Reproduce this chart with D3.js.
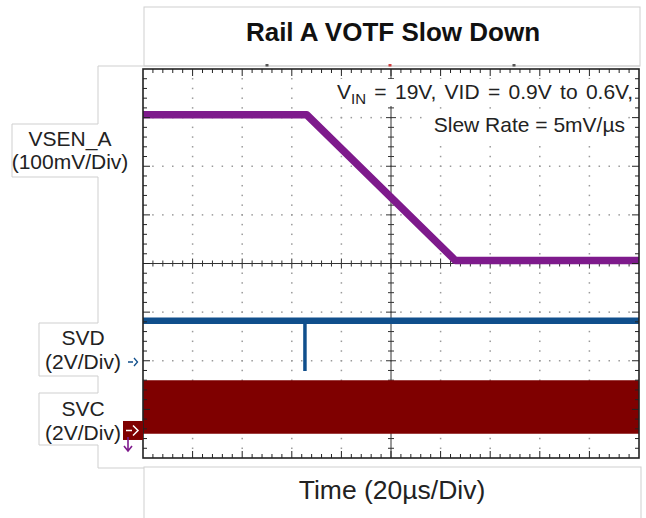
<!DOCTYPE html>
<html>
<head>
<meta charset="utf-8">
<script src="https://cdn.jsdelivr.net/npm/d3@7"></script>
<style>
  html, body { margin: 0; padding: 0; background: #fff; }
  svg { display: block; }
  text { font-family: "Liberation Sans", Arial, sans-serif; }
</style>
</head>
<body>
<svg id="chart" width="646" height="518"></svg>
<script>
// ---- Data (scope capture) ----
const timeDomain = [0, 200];            // µs, 10 divisions x 20 µs
const vsenTime = [0, 66, 126, 200];     // µs
const vsenVolt = [0.9, 0.9, 0.6, 0.6];  // V
const svdTime = [0, 200];
const svdVolt = [1.7, 1.7];
const svdGlitchTime = [65.3, 65.3];
const svdGlitchVolt = [1.7, -0.37];
const svcTime = [0, 200];
const svcHigh = [2.04, 2.04];
const svcLow = [-0.1, -0.1];

const titleText = "Rail A VOTF Slow Down";
const xLabel = "Time (20µs/Div)";
const channelLabels = [
  { name: "VSEN_A", scale: "(100mV/Div)" },
  { name: "SVD", scale: "(2V/Div)" },
  { name: "SVC", scale: "(2V/Div)" }
];

// ---- Layout ----
const svg = d3.select("#chart");
const L = 143, R = 639, T = 69, B = 458;
const nx = 10, ny = 8, minor = 5;
const dx = (R - L) / nx, dy = (B - T) / ny;
const cx = (L + R) / 2, cy = (T + B) / 2;

const x = d3.scaleLinear().domain(timeDomain).range([L, R]);

// channel scale: volts per division and ground position (divisions from centre, up positive)
function channelScale(vPerDiv, groundDiv) {
  return d3.scaleLinear()
    .domain([(-ny / 2 - groundDiv) * vPerDiv, (ny / 2 - groundDiv) * vPerDiv])
    .range([B, T]);
}
const yVsen = channelScale(0.1, -5.94);
const ySvd = channelScale(2, -2.026);
const ySvc = channelScale(2, -3.434);

const colPurple = "#7e1a8c", colBlue = "#104f8c", colRed = "#7f0000";
const grayLine = "#cfcfcf";

// ---- Surrounding panels ----
svg.append("rect").attr("x", 144).attr("y", 7).attr("width", 496).attr("height", 59)
  .attr("fill", "#fff").attr("stroke", grayLine);
svg.append("path")
  .attr("d", "M640,66 H98 V124 H12 V177 H98 V323 H39 V376 H98 V393 H39 V445 H98 V468 H144")
  .attr("fill", "none").attr("stroke", grayLine);
svg.append("rect").attr("x", 144).attr("y", 467).attr("width", 497).attr("height", 70)
  .attr("fill", "#fff").attr("stroke", grayLine);

svg.append("text").attr("x", 393).attr("y", 41).attr("text-anchor", "middle")
  .attr("font-size", 26).attr("font-weight", "bold").attr("fill", "#111").text(titleText);
svg.append("text").attr("x", 392).attr("y", 499).attr("text-anchor", "middle")
  .attr("font-size", 26.5).attr("fill", "#222").text(xLabel);

// small reference markers above the graticule
[[267, "#555"], [390, "#d04040"], [514, "#555"]].forEach(([mx, c]) => {
  svg.append("rect").attr("x", mx - 1.5).attr("y", 64).attr("width", 3).attr("height", 2.5).attr("fill", c);
});

// ---- Graticule ----
const g = svg.append("g");
g.append("rect").attr("x", L).attr("y", T).attr("width", R - L).attr("height", B - T).attr("fill", "#fff");

const dots = [];
for (let i = 1; i < nx; i++) {
  if (i === nx / 2) continue;
  for (let k = 1; k < ny * minor; k++) dots.push([L + i * dx, T + k * dy / minor]);
}
for (let j = 1; j < ny; j++) {
  if (j === ny / 2) continue;
  for (let k = 1; k < nx * minor; k++) dots.push([L + k * dx / minor, T + j * dy]);
}
g.selectAll("rect.dot").data(dots).join("rect").attr("class", "dot")
  .attr("x", d => d[0] - 0.75).attr("y", d => d[1] - 0.75)
  .attr("width", 1.5).attr("height", 1.5).attr("fill", "#9a9a9a");

// centre crosshair with ticks
const cross = g.append("g").attr("stroke", "#333").attr("stroke-width", 1);
cross.append("line").attr("x1", L).attr("x2", R).attr("y1", cy).attr("y2", cy);
cross.append("line").attr("x1", cx).attr("x2", cx).attr("y1", T).attr("y2", B);
for (let k = 1; k < nx * minor; k++) {
  const px = L + k * dx / minor, len = k % minor === 0 ? 5 : 3;
  cross.append("line").attr("x1", px).attr("x2", px).attr("y1", cy - len).attr("y2", cy + len);
}
for (let k = 1; k < ny * minor; k++) {
  const py = T + k * dy / minor, len = k % minor === 0 ? 5 : 3;
  cross.append("line").attr("x1", cx - len).attr("x2", cx + len).attr("y1", py).attr("y2", py);
}

// ---- Traces ----
const clip = svg.append("clipPath").attr("id", "plotClip");
clip.append("rect").attr("x", L).attr("y", T).attr("width", R - L).attr("height", B - T);
const traces = svg.append("g").attr("clip-path", "url(#plotClip)");

// SVC clock band
const svcData = svcTime.map((t, i) => ({ t, hi: svcHigh[i], lo: svcLow[i] }));
traces.append("path").datum(svcData)
  .attr("d", d3.area().x(d => x(d.t)).y0(d => ySvc(d.lo)).y1(d => ySvc(d.hi)))
  .attr("fill", colRed).attr("stroke", colRed).attr("stroke-width", 1.5);

// SVD data line and glitch
const svdLine = d3.line().x(d => x(d[0])).y(d => ySvd(d[1]));
traces.append("path").datum(svdTime.map((t, i) => [t, svdVolt[i]]))
  .attr("d", svdLine).attr("fill", "none").attr("stroke", colBlue).attr("stroke-width", 6.5);
traces.append("path").datum(svdGlitchTime.map((t, i) => [t, svdGlitchVolt[i]]))
  .attr("d", svdLine).attr("fill", "none").attr("stroke", colBlue).attr("stroke-width", 3.5);

// VSEN_A output voltage
traces.append("path").datum(vsenTime.map((t, i) => [t, vsenVolt[i]]))
  .attr("d", d3.line().x(d => x(d[0])).y(d => yVsen(d[1])))
  .attr("fill", "none").attr("stroke", colPurple).attr("stroke-width", 7.5)
  .attr("stroke-linejoin", "round");

// ---- Frame with edge ticks ----
const frame = svg.append("g").attr("stroke", "#222");
frame.append("rect").attr("x", L).attr("y", T).attr("width", R - L).attr("height", B - T)
  .attr("fill", "none").attr("stroke-width", 1.6);
for (let k = 1; k < nx * minor; k++) {
  const px = L + k * dx / minor, len = k % minor === 0 ? 7 : 4;
  frame.append("line").attr("x1", px).attr("x2", px).attr("y1", T).attr("y2", T + len);
  frame.append("line").attr("x1", px).attr("x2", px).attr("y1", B).attr("y2", B - len);
}
for (let k = 1; k < ny * minor; k++) {
  const py = T + k * dy / minor, len = k % minor === 0 ? 7 : 4;
  frame.append("line").attr("x1", L).attr("x2", L + len).attr("y1", py).attr("y2", py);
  frame.append("line").attr("x1", R).attr("x2", R - len).attr("y1", py).attr("y2", py);
}

// ---- Test conditions ----
const ann = svg.append("g");
ann.append("rect").attr("x", 330).attr("y", 79).attr("width", 305).attr("height", 27).attr("fill", "#fff");
ann.append("rect").attr("x", 428).attr("y", 112).attr("width", 200).attr("height", 28).attr("fill", "#fff");
const line1 = ann.append("text").attr("x", 633).attr("y", 99).attr("text-anchor", "end")
  .attr("font-size", 21).attr("word-spacing", 2.5).attr("fill", "#222");
line1.append("tspan").text("V");
line1.append("tspan").attr("font-size", 15).attr("dy", 5).text("IN");
line1.append("tspan").attr("dy", -5).text(" = 19V, VID = 0.9V to 0.6V,");
ann.append("text").attr("x", 625).attr("y", 132).attr("text-anchor", "end")
  .attr("font-size", 21).attr("fill", "#222").text("Slew Rate = 5mV/µs");

// ---- Channel labels ----
const labelPos = [
  { x: 70, y1: 146, y2: 169 },
  { x: 83, y1: 345, y2: 369 },
  { x: 83, y1: 416, y2: 440 }
];
channelLabels.forEach((c, i) => {
  const p = labelPos[i];
  svg.append("text").attr("x", p.x).attr("y", p.y1).attr("text-anchor", "middle")
    .attr("font-size", 21).attr("fill", "#222").text(c.name);
  svg.append("text").attr("x", p.x).attr("y", p.y2).attr("text-anchor", "middle")
    .attr("font-size", 21).attr("fill", "#222").text(c.scale);
});

// ---- Ground markers ----
const svdG = ySvd(0);
svg.append("path").attr("d", `M128,${svdG} H133 M134,${svdG - 4} L137.5,${svdG} L134,${svdG + 4}`)
  .attr("fill", "none").attr("stroke", colBlue).attr("stroke-width", 1.3);

const svcG = ySvc(0);
svg.append("rect").attr("x", 123).attr("y", svcG - 9.5).attr("width", 20).attr("height", 19).attr("fill", colRed);
svg.append("path").attr("d", `M126,${svcG} H132 M133,${svcG - 5} L138,${svcG} L133,${svcG + 5}`)
  .attr("fill", "none").attr("stroke", "#fff").attr("stroke-width", 1.5);

// VSEN ground is below the screen
svg.append("path").attr("d", "M128,437 V451 M124,446 L128,451 L132,446")
  .attr("fill", "none").attr("stroke", colPurple).attr("stroke-width", 1.6);
</script>
</body>
</html>
